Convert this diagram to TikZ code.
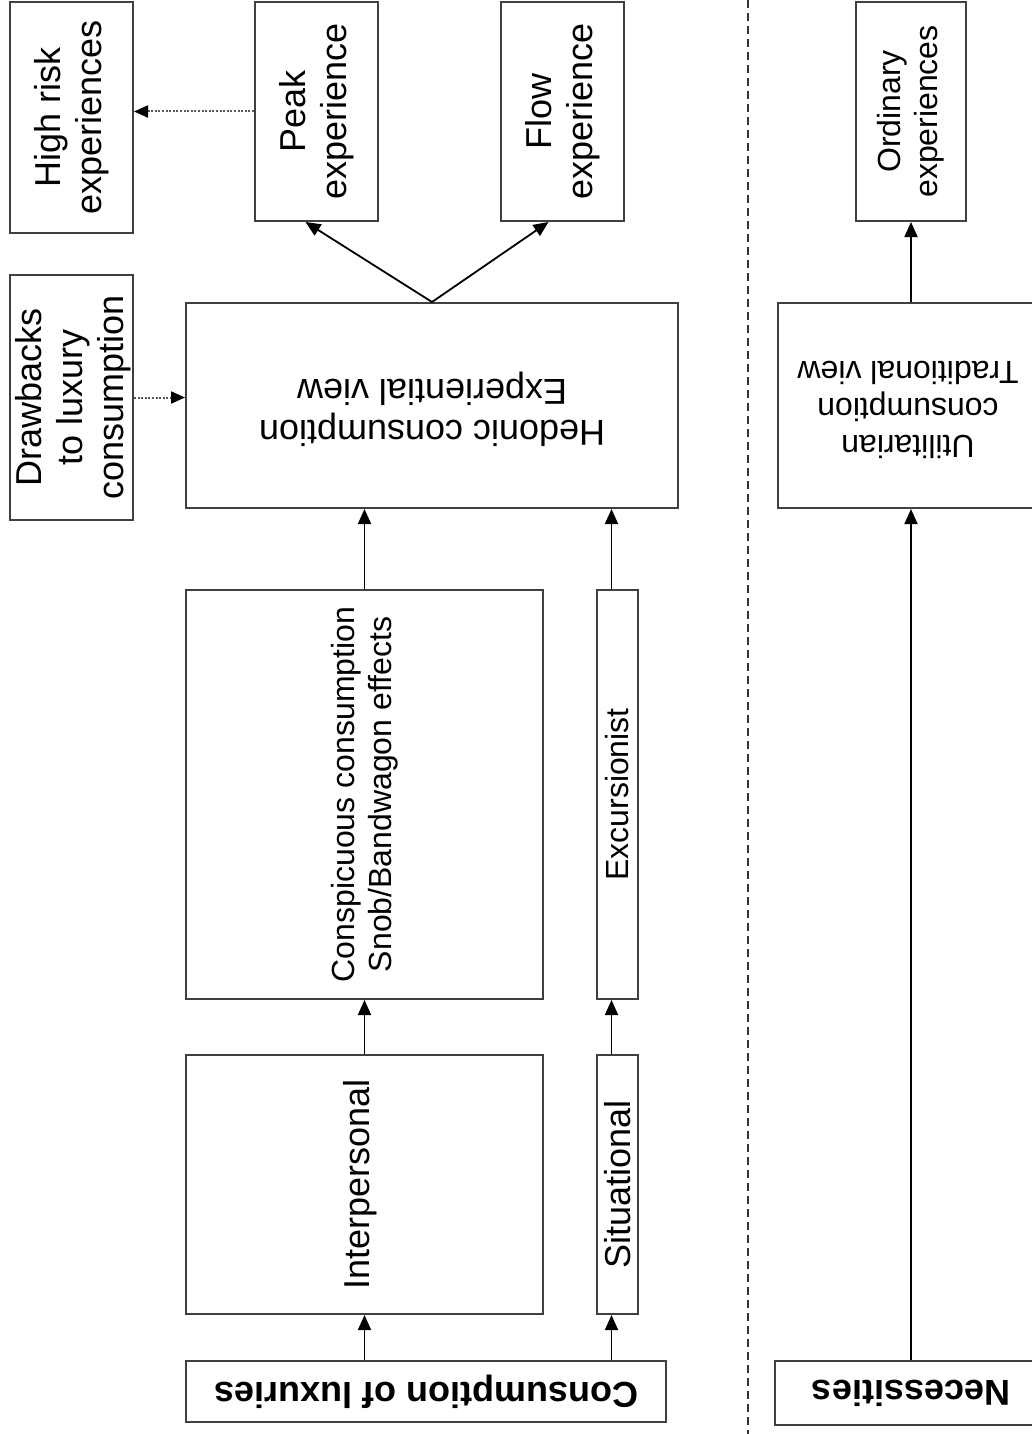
\documentclass[tikz,border=0pt]{standalone}
\usepackage{fontspec}
\setmainfont{Liberation Sans}
\usetikzlibrary{arrows.meta,calc}
\begin{document}
\begin{tikzpicture}[x=1pt,y=-1pt,
  box/.style={draw=black!75, line width=2pt, inner sep=0pt},
  lbl/.style={align=center, inner sep=0pt, font=\fontsize{36}{41}\selectfont},
  lbls/.style={align=center, inner sep=0pt, font=\fontsize{32}{37}\selectfont},
  lblb/.style={align=center, inner sep=0pt, font=\bfseries\fontsize{36}{41}\selectfont},
  arr/.style={line width=1.8pt, draw=black, -{Triangle[length=15pt,width=13pt]}},
  dotarr/.style={line width=2pt, draw=black!65, dash pattern=on 2pt off 1.6pt, -{Triangle[length=14pt,width=12pt,color=black]}},
  sepline/.style={line width=1.8pt, draw=black!80, dash pattern=on 8pt off 5pt}]
\clip (0,0) rectangle (1032,1434);
\fill[white] (0,0) rectangle (1032,1434);

% boxes
\node[box, minimum width=123pt, minimum height=231pt] (risk) at (71.5,117.5) {};
\node[box, minimum width=123pt, minimum height=219pt] (peak) at (316.5,111.5) {};
\node[box, minimum width=123pt, minimum height=219pt] (flow) at (562.5,111.5) {};
\node[box, minimum width=110pt, minimum height=219pt] (ord) at (911,111.5) {};
\node[box, minimum width=123pt, minimum height=245pt] (drawb) at (71.5,397.5) {};
\node[box, minimum width=492pt, minimum height=205pt] (hed) at (432,405.5) {};
\node[box, minimum width=266pt, minimum height=205pt] (util) at (911,405.5) {};
\node[box, minimum width=357pt, minimum height=409pt] (consp) at (364.5,794.5) {};
\node[box, minimum width=41pt, minimum height=409pt] (exc) at (617.5,794.5) {};
\node[box, minimum width=357pt, minimum height=259pt] (inter) at (364.5,1184.5) {};
\node[box, minimum width=41pt, minimum height=259pt] (sit) at (617.5,1184.5) {};
\node[box, minimum width=480pt, minimum height=61pt] (lux) at (426,1391.5) {};
\node[box, minimum width=272pt, minimum height=64pt] (nec) at (911,1393) {};

% labels
\node[lbl, rotate=90] (riskt) at (risk) {High risk\\experiences};
\node[lbl, rotate=90] (peakt) at (peak) {Peak\\experience};
\node[lbl, rotate=90] (flowt) at (flow) {Flow\\experience};
\node[lbls, rotate=90] (ordt) at (ord) {Ordinary\\experiences};
\node[lbl, rotate=90] (drawbt) at ($(drawb)+(2,0)$) {Drawbacks\\to luxury\\consumption};
\node[lbl, rotate=180] (hedt) at ($(hed)+(0,4)$) {Hedonic consumption\\Experiential view};
\node[lbls, rotate=180] (utilt) at ($(util)+(-3,4)$) {Utilitarian\\consumption\\Traditional view};
\node[lbls, rotate=90] (conspt) at (consp) {Conspicuous consumption\\Snob/Bandwagon effects};
\node[lbls, rotate=90] (exct) at (exc) {Excursionist};
\node[lbl, rotate=90] (intert) at ($(inter)+(-4,0)$) {Interpersonal};
\node[lbl, rotate=90] (sitt) at (sit) {Situational};
\node[lblb, rotate=180] (luxt) at (lux) {Consumption of luxuries};
\node[lblb, rotate=180] (nect) at (nec) {Necessities};

% separator
\coordinate (septop) at (748,0);
\coordinate (sepbot) at (748,1434);
\draw[sepline] (septop) -- (sepbot);

% connectors
\draw[arr] (lux.north -| inter) -- (inter.south);
\draw[arr] ($(sit.south |- lux.north)+(-6,0)$) -- ($(sit.south)+(-6,0)$);
\draw[arr] (inter.north) -- (consp.south);
\draw[arr] ($(sit.north)+(-6,0)$) -- ($(exc.south)+(-6,0)$);
\draw[arr] (consp.north) -- (consp.north |- hed.south);
\draw[arr] ($(exc.north)+(-6,0)$) -- ($(exc.north |- hed.south)+(-6,0)$);
\draw[arr] (hed.north) -- ($(peak.south)+(-11,0)$);
\draw[arr] (hed.north) -- ($(flow.south)+(-14,0)$);
\draw[dotarr] (peak.west) -- (risk.east |- peak.west);
\draw[dotarr] (drawb.east) -- (hed.west |- drawb.east);
\draw[arr] (nec.north) -- (util.south);
\draw[arr] (util.north) -- (ord.south);
\end{tikzpicture}
\end{document}
